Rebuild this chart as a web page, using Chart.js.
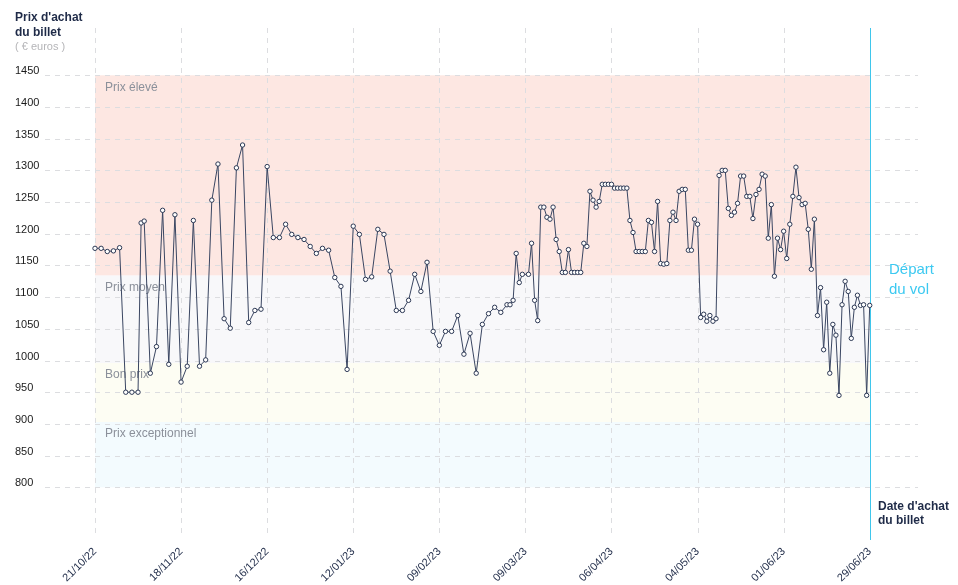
<!DOCTYPE html>
<html lang="fr">
<head>
<meta charset="utf-8">
<title>Prix d'achat du billet</title>
<script src="https://cdn.jsdelivr.net/npm/chart.js@4.4.1/dist/chart.umd.min.js"></script>
<style>
    html, body { margin: 0; padding: 0; background: #ffffff; }
    #wrap { width: 958px; height: 585px; position: relative; }
</style>
</head>
<body>
<div id="wrap"><canvas id="myChart" width="958" height="585"></canvas></div>
<script>
// jours depuis le 21/10/22 et prix relevés
const jours = [0, 2, 4, 6, 8, 10, 12, 14, 15, 16, 18, 20, 22, 24, 26, 28, 30, 32, 34, 36, 38,
    40, 42, 44, 46, 48, 50, 52, 54, 56, 58, 60, 62, 64, 66, 68, 70, 72, 74, 76, 78,
    80, 82, 84, 86, 88, 90, 92, 94, 96, 98, 100, 102, 104, 106, 108, 110, 112, 114, 116, 118,
    120, 122, 124, 126, 128, 130, 132, 134, 135, 136, 137, 138, 139, 141, 142, 143, 144, 145, 146, 147,
    148, 149, 150, 151, 152, 153, 154, 155, 156, 157, 158, 159, 160, 161, 162, 163, 164, 165, 166, 167,
    168, 169, 170, 171, 172, 173, 174, 175, 176, 177, 178, 179, 180, 181, 182, 183, 184, 185, 186, 187,
    188, 189, 190, 191, 192, 193, 194, 195, 196, 197, 198, 199, 200, 201, 202, 203, 204, 205, 206, 207,
    208, 209, 210, 211, 212, 213, 214, 215, 216, 217, 218, 219, 220, 221, 222, 223, 224, 225, 226, 227,
    228, 229, 230, 231, 232, 233, 234, 235, 236, 237, 238, 239, 240, 241, 242, 243, 244, 245, 246, 247,
    248, 249, 250, 251, 252]
const prix = [1177, 1177, 1172, 1173, 1178, 950, 950, 950, 1217, 1220, 980, 1022, 1237, 994, 1230, 966, 991, 1221, 991, 1001, 1253,
    1310, 1066, 1051, 1304, 1340, 1060, 1079, 1081, 1306, 1194, 1194, 1215, 1199, 1194, 1191, 1180, 1169, 1177, 1174, 1131,
    1117, 986, 1212, 1199, 1128, 1132, 1207, 1199, 1141, 1079, 1079, 1095, 1136, 1109, 1155, 1046, 1024, 1046, 1046, 1071,
    1010, 1043, 980, 1057, 1074, 1084, 1076, 1088, 1088, 1095, 1169, 1123, 1136, 1136, 1185, 1095, 1063, 1242, 1242, 1226,
    1223, 1242, 1191, 1172, 1139, 1139, 1175, 1139, 1139, 1139, 1139, 1185, 1180, 1267, 1253, 1242, 1251, 1278, 1278, 1278,
    1278, 1272, 1272, 1272, 1272, 1272, 1221, 1202, 1172, 1172, 1172, 1172, 1221, 1218, 1172, 1251, 1153, 1152, 1153, 1221,
    1234, 1221, 1267, 1270, 1270, 1174, 1174, 1223, 1215, 1068, 1073, 1062, 1071, 1062, 1066, 1292, 1300, 1300, 1240, 1229,
    1234, 1248, 1291, 1291, 1259, 1259, 1224, 1262, 1270, 1294, 1291, 1193, 1246, 1133, 1193, 1175, 1204, 1161, 1215, 1259,
    1305, 1257, 1246, 1248, 1207, 1144, 1223, 1071, 1115, 1017, 1092, 980, 1057, 1040, 945, 1088, 1125, 1109, 1035, 1084,
    1103, 1087, 1088, 945, 1087]

// axe des dates
const tickJours = [0, 28, 56, 84, 112, 140, 168, 196, 224, 252]
const tickDates = ["21/10/22", "18/11/22", "16/12/22", "12/01/23", "09/02/23", "09/03/23", "06/04/23", "04/05/23", "01/06/23", "29/06/23"]
const tickPrix = [800, 850, 900, 950, 1000, 1050, 1100, 1150, 1200, 1250, 1300, 1350, 1400, 1450]

// zones de prix
const zonesNoms = ["Prix élevé", "Prix moyen", "Bon prix", "Prix exceptionnel"]
const zonesHaut = [1450, 1134, 996, 903]
const zonesBas = [1134, 996, 903, 800]
const zonesCouleurs = ["#fde7e2", "#f8f8fa", "#fdfdf3", "#f3fbfe"]

const jourDepart = 252

const police = "'Liberation Sans', Arial, sans-serif"

const zonesPlugin = {
    id: "zones",
    beforeDatasetsDraw(chart) {
        const { ctx, scales: { x, y } } = chart
        const x0 = x.getPixelForValue(0)
        const x1 = x.getPixelForValue(jourDepart)
        ctx.save()
        for (let i = 0; i < zonesNoms.length; i++) {
            const yh = y.getPixelForValue(zonesHaut[i])
            const yb = y.getPixelForValue(zonesBas[i])
            ctx.fillStyle = zonesCouleurs[i]
            ctx.fillRect(x0, yh, x1 - x0, yb - yh)
        }
        // on redessine les lignes pointillées par dessus les zones
        ctx.strokeStyle = "#dcdde0"
        ctx.lineWidth = 1
        ctx.setLineDash([5, 5])
        tickPrix.forEach(v => {
            const py = Math.round(y.getPixelForValue(v)) + 0.5
            ctx.beginPath()
            ctx.moveTo(chart.chartArea.left, py)
            ctx.lineTo(chart.chartArea.right, py)
            ctx.stroke()
        })
        tickJours.forEach(j => {
            const px = Math.round(x.getPixelForValue(j)) + 0.5
            ctx.beginPath()
            ctx.moveTo(px, chart.chartArea.top)
            ctx.lineTo(px, chart.chartArea.bottom)
            ctx.stroke()
        })
        ctx.setLineDash([])
        ctx.font = "12px " + police
        ctx.fillStyle = "#8b909a"
        ctx.textBaseline = "middle"
        for (let i = 0; i < zonesNoms.length; i++) {
            const yh = y.getPixelForValue(zonesHaut[i])
            ctx.fillText(zonesNoms[i], x0 + 10, yh + 12)
        }
        // depart du vol
        const xd = Math.round(x.getPixelForValue(jourDepart)) + 0.5
        ctx.strokeStyle = "#3fc6ec"
        ctx.lineWidth = 1
        ctx.beginPath()
        ctx.moveTo(xd, chart.chartArea.top)
        ctx.lineTo(xd, chart.chartArea.bottom + 3)
        ctx.stroke()
        ctx.restore()
    },
    afterDraw(chart) {
        const { ctx } = chart
        ctx.save()
        ctx.textBaseline = "middle"
        ctx.fillStyle = "#1f2b48"
        ctx.font = "bold 12px " + police
        ctx.fillText("Prix d'achat", 15, 18)
        ctx.fillText("du billet", 15, 33)
        ctx.fillText("Date d'achat", 878, 507)
        ctx.fillText("du billet", 878, 521)
        ctx.fillStyle = "#b5b5b8"
        ctx.font = "11px " + police
        ctx.fillText("( € euros )", 15, 47)
        ctx.fillStyle = "#3cc9f1"
        ctx.font = "15px " + police
        ctx.fillText("Départ", 889, 270)
        ctx.fillText("du vol", 889, 290)
        ctx.restore()
    }
}

const data = {
    datasets: [{
        label: "Prix",
        data: jours.map((j, i) => ({ x: j, y: prix[i] })),
        borderColor: "#3a4662",
        borderWidth: 1,
        pointRadius: 2.2,
        pointBorderWidth: 1,
        pointBackgroundColor: "#ffffff",
        pointBorderColor: "#2c3854",
        tension: 0
    }]
}

const config = {
    type: "line",
    data: data,
    options: {
        responsive: false,
        animation: false,
        layout: { padding: { left: 15, right: 40, top: 28, bottom: 0 } },
        plugins: { legend: { display: false }, tooltip: { enabled: false } },
        scales: {
            x: {
                type: "linear",
                min: -16.26,
                max: 267.7,
                afterBuildTicks: axis => { axis.ticks = tickJours.map(v => ({ value: v })) },
                afterFit: axis => { axis.height = 48 },
                grid: { display: false },
                border: { display: false },
                ticks: {
                    autoSkip: false,
                    maxRotation: 45,
                    minRotation: 45,
                    padding: 0,
                    color: "#1f2b48",
                    font: { family: police, size: 11 },
                    callback: (v) => tickDates[tickJours.indexOf(v)]
                }
            },
            y: {
                min: 721.6,
                max: 1524.6,
                afterBuildTicks: axis => { axis.ticks = tickPrix.map(v => ({ value: v })) },
                afterFit: axis => { axis.width = 30 },
                grid: { display: false },
                border: { display: false },
                ticks: {
                    crossAlign: "far",
                    labelOffset: -4,
                    padding: 0,
                    color: "#1a1a1a",
                    font: { family: police, size: 11 },
                    callback: (v) => String(v)
                }
            }
        }
    },
    plugins: [zonesPlugin]
}

new Chart(document.querySelector("#myChart"), config)
</script>
</body>
</html>
